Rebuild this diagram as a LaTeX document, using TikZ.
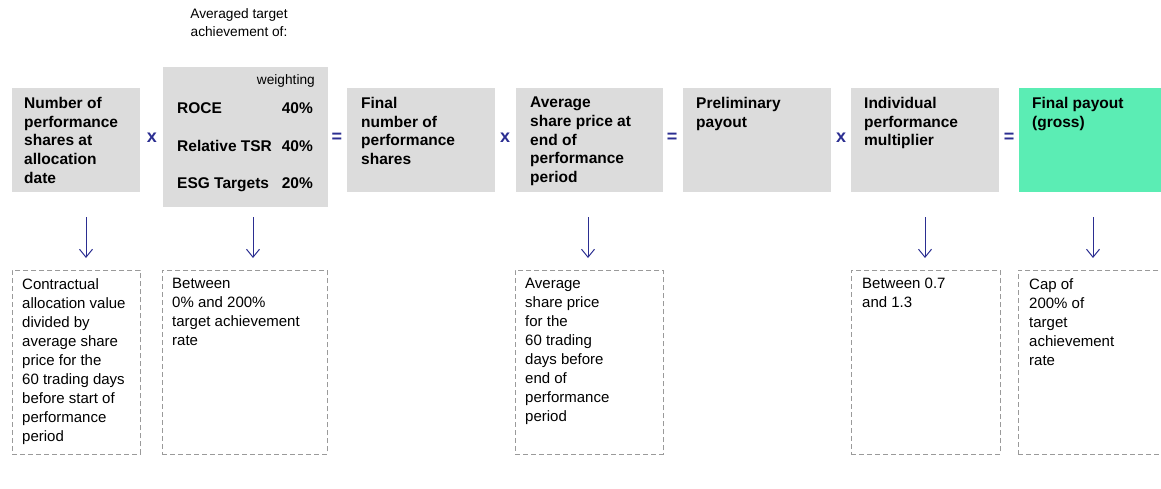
\documentclass[tikz,border=0pt]{standalone}
\usepackage{fontspec}
\setmainfont{Liberation Sans}
\usetikzlibrary{arrows.meta}
\definecolor{boxgray}{HTML}{DCDCDC}
\definecolor{payoutgreen}{HTML}{5BEDB4}
\definecolor{opblue}{HTML}{2B2E91}
\definecolor{notegray}{HTML}{9A9A9A}

\begin{document}
\begin{tikzpicture}[x=1pt,y=-1pt]
\tikzset{factor/.style = {fill=boxgray,inner sep=0pt,anchor=north west,minimum height=104},
    head/.style = {anchor=north west,inner sep=0pt,align=left,font=\fontsize{15.5}{18.7}\selectfont\bfseries},
    operator/.style = {text=opblue,inner sep=0pt,font=\fontsize{18}{18}\selectfont\bfseries},
    note/.style = {draw=notegray,line width=0.8pt,dash pattern=on 5pt off 3pt,inner sep=0pt,anchor=north west,minimum height=184},
    notetext/.style = {anchor=north west,inner sep=0pt,align=left,font=\fontsize{15}{19}\selectfont},
    small/.style = {inner sep=0pt,font=\fontsize{13.7}{18}\selectfont},
    down/.style = {opblue,line width=1pt,-{Straight Barb[length=8pt,width=13pt,line width=1pt]}}}
\useasboundingbox (0,0) rectangle (1161,488);
% factors
\foreach \x/\w/\name in {12/128/f1,347/148/f3,516/147/f4,683/148/f5,851/148/f6} {
    \node[factor,minimum width=\w] (\name) at (\x,88) {};
}
\node[factor,minimum width=165,minimum height=140] (f2) at (163,67) {};
\node[factor,minimum width=148,fill=payoutgreen] (f7) at (1019,88) {};
\node[head,xshift=12pt,yshift=-9pt] (h1) at (f1.north west) {Number of\\performance\\shares at\\allocation\\date};
\node[head,xshift=14pt,yshift=-9pt] (h3) at (f3.north west) {Final\\number of\\performance\\shares};
\node[head,xshift=14pt,yshift=-9pt] (h4) at (f4.north west) {Average\\share price at\\end of\\performance\\period};
\node[head,xshift=13pt,yshift=-9pt] (h5) at (f5.north west) {Preliminary\\payout};
\node[head,xshift=13pt,yshift=-9pt] (h6) at (f6.north west) {Individual\\performance\\multiplier};
\node[head,xshift=13pt,yshift=-9pt] (h7) at (f7.north west) {Final payout\\(gross)};
% target achievement
\node[small,anchor=north,align=center] (avg) at (239,8) {Averaged target\\achievement of:};
\node[small,anchor=base east] (wt) at (315,84) {weighting};
\foreach \y/\goal/\pct/\name in {113/ROCE/40\%/roce,151/Relative TSR/40\%/tsr,188/ESG Targets/20\%/esg} {
    \node[head,anchor=base west] (\name) at (177,\y) {\goal};
    \node[head,anchor=base east] (\name w) at (313,\y) {\pct};
}
% operators
\foreach \x/\op/\i in {152/x/1,337/=/2,505/x/3,672/=/4,841/x/5,1009/=/6} {
    \node[operator] (op\i) at (\x,138) {\op};
}
% notes
\foreach \x/\w/\name in {12/128/n1,162/165/n2,515/148/n4,851/149/n6,1018/150/n7} {
    \node[note,minimum width=\w] (\name) at (\x,270) {};
}
\node[notetext,xshift=10pt,yshift=-8pt] (t1) at (n1.north west) {Contractual\\allocation value\\divided by\\average share\\price for the\\60 trading days\\before start of\\performance\\period};
\node[notetext,xshift=10pt,yshift=-8pt] (t2) at (n2.north west) {Between\\0\% and 200\%\\target achievement\\rate};
\node[notetext,xshift=10pt,yshift=-8pt] (t4) at (n4.north west) {Average\\share price\\for the\\60 trading\\days before\\end of\\performance\\period};
\node[notetext,xshift=11pt,yshift=-8pt] (t6) at (n6.north west) {Between 0.7\\and 1.3};
\node[notetext,xshift=11pt,yshift=-8pt] (t7) at (n7.north west) {Cap of\\200\% of\\target\\achievement\\rate};
% arrows
\foreach \x/\i in {86/1,253/2,588/4,925/6,1093/7} {
    \coordinate (a\i) at (\x,217);
    \coordinate (b\i) at (\x,258);
    \draw[down] (a\i) -- (b\i);
}
\end{tikzpicture}
\end{document}
